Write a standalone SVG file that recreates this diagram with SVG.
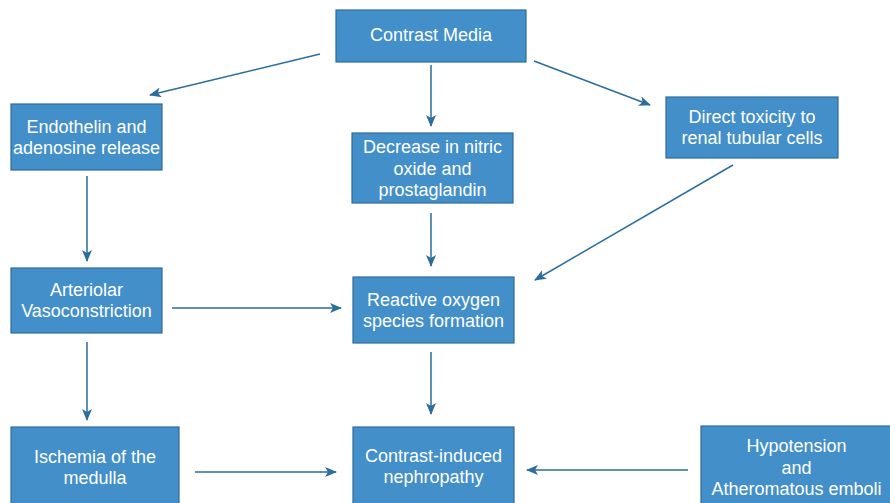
<svg xmlns="http://www.w3.org/2000/svg" width="890" height="503" viewBox="0 0 890 503">
  <style>
    .box { fill: #438fc9; stroke: #2f6b9b; stroke-width: 1.2; }
    .lbl { fill: #ffffff; font-family: "Liberation Sans", Arial, sans-serif; font-size: 18px; text-anchor: middle; }
    .edge { stroke: #2b6d9d; stroke-width: 1.5; fill: none; marker-end: url(#head); }
  </style>
  <defs>
    <marker id="head" viewBox="0 0 12 10" refX="11" refY="5" markerWidth="12" markerHeight="10" markerUnits="userSpaceOnUse" orient="auto">
      <path d="M0,0 L12,5 L0,10 L3,5 Z" fill="#2b6d9d"/>
    </marker>
  </defs>
  <rect width="890" height="503" fill="#ffffff"/>

  <g id="connectors">
    <line class="edge" x1="320" y1="54" x2="150" y2="95"/>
    <line class="edge" x1="534" y1="61" x2="650" y2="105"/>
    <line class="edge" x1="431" y1="65" x2="431" y2="126"/>
    <line class="edge" x1="733" y1="165" x2="535" y2="280"/>
    <line class="edge" x1="431" y1="213" x2="431" y2="266"/>
    <line class="edge" x1="87" y1="176" x2="87" y2="261"/>
    <line class="edge" x1="172" y1="308" x2="341" y2="308"/>
    <line class="edge" x1="87" y1="342" x2="87" y2="420"/>
    <line class="edge" x1="431" y1="352" x2="431" y2="414"/>
    <line class="edge" x1="195" y1="472" x2="336" y2="472"/>
    <line class="edge" x1="688" y1="470" x2="527" y2="470"/>
  </g>

  <g id="contrast-media">
    <rect class="box" x="336" y="10" width="190" height="52"/>
    <text class="lbl" x="431" y="41">Contrast Media</text>
  </g>

  <g id="endothelin">
    <rect class="box" x="11" y="104" width="151" height="66"/>
    <text class="lbl" x="86.5" y="133">Endothelin and</text>
    <text class="lbl" x="86.5" y="154">adenosine release</text>
  </g>

  <g id="nitric-oxide">
    <rect class="box" x="352" y="133" width="161" height="70"/>
    <text class="lbl" x="432.5" y="153">Decrease in nitric</text>
    <text class="lbl" x="432.5" y="175">oxide and</text>
    <text class="lbl" x="432.5" y="196">prostaglandin</text>
  </g>

  <g id="direct-toxicity">
    <rect class="box" x="666" y="97" width="172" height="61"/>
    <text class="lbl" x="752" y="122.5">Direct toxicity to</text>
    <text class="lbl" x="752" y="144">renal tubular cells</text>
  </g>

  <g id="vasoconstriction">
    <rect class="box" x="11" y="268" width="151" height="65"/>
    <text class="lbl" x="86.5" y="296">Arteriolar</text>
    <text class="lbl" x="86.5" y="317">Vasoconstriction</text>
  </g>

  <g id="ros">
    <rect class="box" x="353" y="277" width="161" height="66"/>
    <text class="lbl" x="433.5" y="306">Reactive oxygen</text>
    <text class="lbl" x="433.5" y="327">species formation</text>
  </g>

  <g id="ischemia">
    <rect class="box" x="11" y="427" width="168" height="80"/>
    <text class="lbl" x="95" y="463">Ischemia of the</text>
    <text class="lbl" x="95" y="483.5">medulla</text>
  </g>

  <g id="cin">
    <rect class="box" x="353" y="427" width="161" height="80"/>
    <text class="lbl" x="433.5" y="462">Contrast-induced</text>
    <text class="lbl" x="433.5" y="483">nephropathy</text>
  </g>

  <g id="hypotension">
    <rect class="box" x="701" y="426" width="200" height="81"/>
    <text class="lbl" x="796.5" y="452">Hypotension</text>
    <text class="lbl" x="796.5" y="473.5">and</text>
    <text class="lbl" x="796.5" y="494.5">Atheromatous emboli</text>
  </g>
</svg>
